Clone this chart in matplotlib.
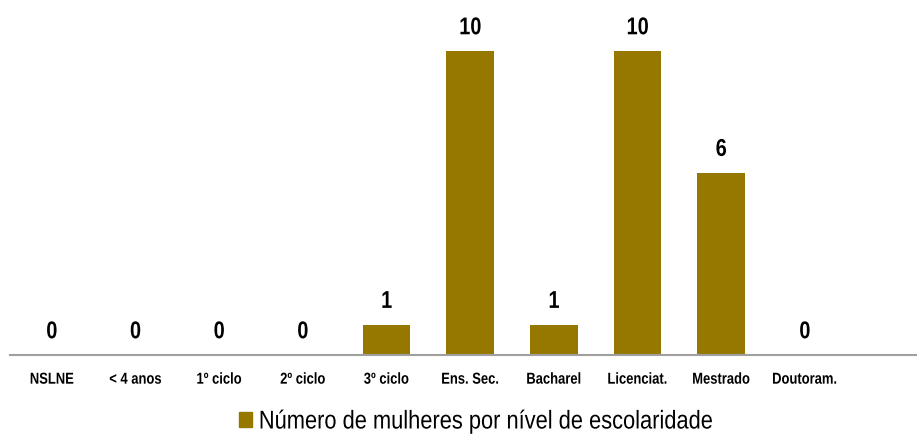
import matplotlib
matplotlib.use("Agg")
import matplotlib.pyplot as plt
from matplotlib.patches import Patch
from matplotlib.patheffects import AbstractPathEffect
from matplotlib.transforms import Affine2D

niveis = ["NSLNE", "< 4 anos", "1º ciclo", "2º ciclo", "3º ciclo",
          "Ens. Sec.", "Bacharel", "Licenciat.", "Mestrado", "Doutoram."]
mulheres = [0, 0, 0, 0, 1, 10, 1, 10, 6, 0]
serie = "Número de mulheres por nível de escolaridade"
cor = "#967800"

plt.rcParams["font.family"] = ["Liberation Sans", "DejaVu Sans"]


class Estreito(AbstractPathEffect):
    """Squeeze text horizontally to get a narrow face."""

    def __init__(self, sx=0.82, ancora="center"):
        super().__init__()
        self.sx = sx
        self.ancora = ancora

    def draw_path(self, renderer, gc, tpath, affine, rgbFace=None):
        ext = tpath.get_extents()
        cx = (ext.x0 + ext.x1) / 2 if self.ancora == "center" else ext.x0
        t = Affine2D().translate(-cx, 0).scale(self.sx, 1).translate(cx, 0)
        renderer.draw_path(gc, tpath, t + affine, rgbFace)


fig = plt.figure(figsize=(9.17, 4.34), dpi=100)
ax = fig.add_axes([10 / 917, 1 - 355 / 434, 907 / 917, 355 / 434])

x = list(range(len(niveis)))
ax.bar(x, mulheres, width=0.57, color=cor)
for xi, v in zip(x, mulheres):
    ax.text(xi, v + 0.55, str(v), ha="center", va="baseline",
            fontsize=17.5, fontweight="bold", path_effects=[Estreito()])

ax.set_xlim(-0.5, 10.34)
ax.set_ylim(0, 355 / 30.4)
ax.set_yticks([])
ax.set_xticks(x)
ax.set_xticklabels(niveis, fontsize=11.4, fontweight="bold")
for lbl in ax.get_xticklabels():
    lbl.set_path_effects([Estreito()])
ax.tick_params(axis="x", length=0, pad=12)
for s in ["top", "right", "left"]:
    ax.spines[s].set_visible(False)
ax.spines["bottom"].set_color("#a0a0a0")
ax.spines["bottom"].set_linewidth(1.5)

leg = fig.legend(handles=[Patch(color=cor, label=serie)], loc="center left",
                 bbox_to_anchor=(239 / 917, 1 - 421.5 / 434), frameon=False,
                 fontsize=18.5, handlelength=0.52, handleheight=0.52,
                 handletextpad=0.24, borderpad=0, borderaxespad=0)
for t in leg.get_texts():
    t.set_path_effects([Estreito(sx=0.85, ancora="left")])

fig.savefig("out.png", dpi=100)
